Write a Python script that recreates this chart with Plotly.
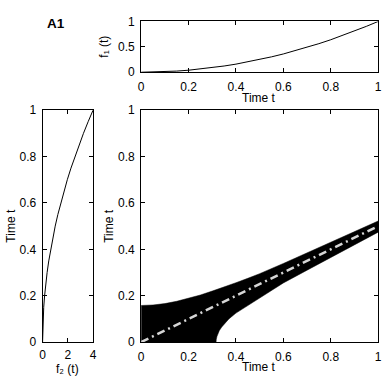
import plotly.graph_objects as go

# time grid used by the two marginal curves
t = [0, 0.05, 0.1, 0.15, 0.2, 0.25, 0.3, 0.35, 0.4, 0.45, 0.5,
     0.55, 0.6, 0.65, 0.7, 0.75, 0.8, 0.85, 0.9, 0.95, 1.0]
f1 = [0, 0.003, 0.01, 0.023, 0.04, 0.063, 0.09, 0.123, 0.16, 0.203, 0.25,
      0.303, 0.36, 0.423, 0.49, 0.563, 0.64, 0.723, 0.81, 0.903, 1.0]
f2 = [0, 0.01, 0.04, 0.09, 0.16, 0.25, 0.36, 0.49, 0.64, 0.81, 1.0,
      1.21, 1.44, 1.69, 1.96, 2.25, 2.56, 2.89, 3.24, 3.61, 4.0]

# black band in the main panel (upper and lower edges)
upper_x = [0, 0.05, 0.1, 0.15, 0.2, 0.25, 0.3, 0.35, 0.4, 0.45, 0.5,
           0.6, 0.7, 0.8, 0.9, 1.0]
upper_y = [0.158, 0.16, 0.166, 0.176, 0.188, 0.203, 0.22, 0.237, 0.256, 0.275, 0.295,
           0.339, 0.385, 0.43, 0.476, 0.522]
lower_x = [0.316, 0.317, 0.32, 0.325, 0.33, 0.34, 0.35, 0.37, 0.4, 0.45, 0.5,
           0.55, 0.6, 0.7, 0.8, 0.9, 1.0]
lower_y = [0, 0.012, 0.025, 0.04, 0.05, 0.065, 0.078, 0.1, 0.125, 0.16, 0.19,
           0.223, 0.255, 0.31, 0.367, 0.42, 0.474]

# dash-dot reference line
ref_x = [0, 1]
ref_y = [0, 0.5]

FONT = "Liberation Sans, Arial, sans-serif"
FS = 12
W, H = 390, 387


def px_x(p):
    return p / W


def px_y(p):
    return 1 - p / H


fig = go.Figure()

# top panel: f1(t)
fig.add_trace(go.Scatter(x=t, y=f1, mode="lines", line=dict(color="black", width=1),
                         xaxis="x2", yaxis="y2", showlegend=False))
# left panel: f2(t) against time
fig.add_trace(go.Scatter(x=f2, y=t, mode="lines", line=dict(color="black", width=1),
                         xaxis="x3", yaxis="y3", showlegend=False))
# main panel: filled band
band_x = [0] + upper_x + lower_x[::-1] + [0]
band_y = [0] + upper_y + lower_y[::-1] + [0]
fig.add_trace(go.Scatter(x=band_x, y=band_y, mode="lines", fill="toself",
                         fillcolor="black", line=dict(color="black", width=0.5),
                         xaxis="x", yaxis="y", showlegend=False))
fig.add_trace(go.Scatter(x=ref_x, y=ref_y, mode="lines",
                         line=dict(color="#d6d6d6", width=2.5, dash="8px,4px,2px,4px"),
                         xaxis="x", yaxis="y", showlegend=False))

ax = dict(showline=True, linecolor="black", linewidth=1, mirror="ticks",
          ticks="inside", ticklen=4, tickcolor="black", showgrid=False, zeroline=False,
          tickfont=dict(size=FS, color="black"), ticklabelstandoff=3)

main_x = [px_x(140.7), px_x(382)]
main_y = [px_y(347.7), px_y(107)]
tick01 = [0, 0.2, 0.4, 0.6, 0.8, 1]
text01 = ["0", "0.2", "0.4", "0.6", "0.8", "1"]

fig.update_layout(
    width=W, height=H, margin=dict(l=0, r=0, t=0, b=0),
    paper_bgcolor="white", plot_bgcolor="white",
    font=dict(family=FONT, size=FS, color="black"),
    xaxis=dict(ax, domain=main_x, range=[0, 1], tickvals=tick01, ticktext=text01),
    yaxis=dict(ax, domain=main_y, range=[0, 1], tickvals=tick01, ticktext=text01),
    xaxis2=dict(ax, domain=main_x, anchor="y2", range=[0, 1],
                tickvals=tick01, ticktext=text01),
    yaxis2=dict(ax, domain=[px_y(67.7), px_y(15)], anchor="x2", range=[0, 1],
                tickvals=[0, 0.5, 1], ticktext=["0", "0.5", "1"]),
    xaxis3=dict(ax, domain=[px_x(40.3), px_x(91.7)], anchor="y3", range=[0, 4],
                tickvals=[0, 2, 4], ticktext=["0", "2", "4"], ticklabelstandoff=1),
    yaxis3=dict(ax, domain=main_y, anchor="x3", range=[0, 1],
                tickvals=tick01, ticktext=text01),
)

# axis titles placed as annotations (pixel positions)
titles = [
    ("Time t", 261, 373, 0),
    ("Time t", 261, 94, 0),
    ("f\u2082 (t)", 66, 376, 0),
    ("Time t", 8, 227, -90),
    ("Time t", 108, 227, -90),
    ("f\u2081 (t)", 102, 41, -90),
]
for txt, x, y, ang in titles:
    fig.add_annotation(text=txt, x=px_x(x), y=px_y(y), xref="paper", yref="paper",
                       showarrow=False, textangle=ang, font=dict(size=FS, color="black"),
                       xanchor="center", yanchor="middle")

fig.add_annotation(text="<b>A1</b>", x=px_x(53.5), y=px_y(17.5), xref="paper", yref="paper",
                   showarrow=False, font=dict(size=13.5, color="black"),
                   xanchor="center", yanchor="middle")

fig.write_html("out.html", config={"displayModeBar": False},
               post_script="document.body.style.margin='0';")
